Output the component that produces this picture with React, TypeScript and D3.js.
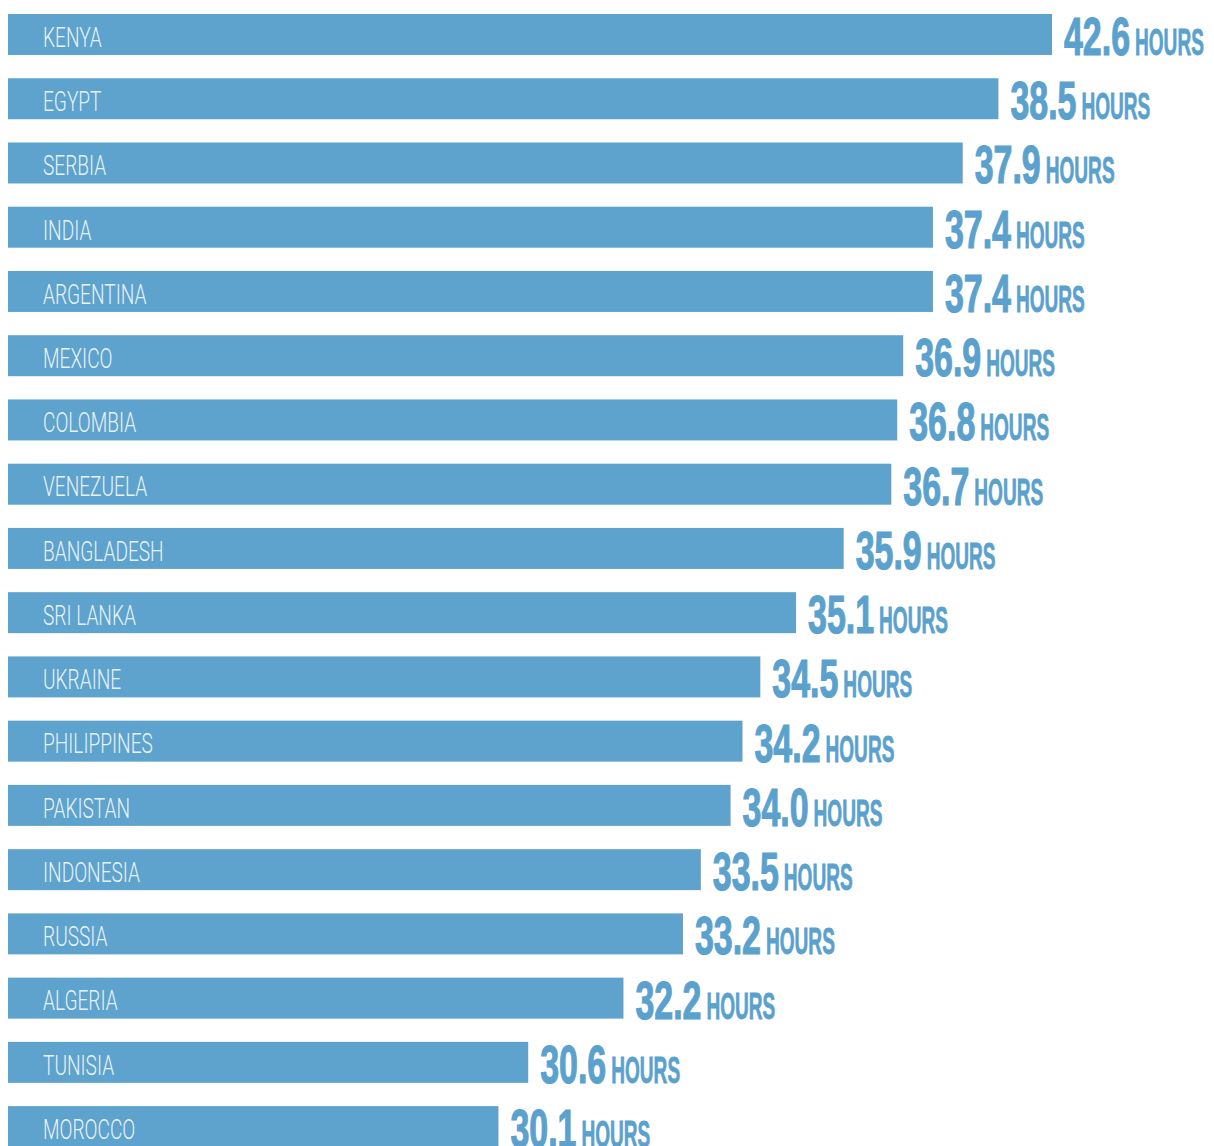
import React, { useEffect, useRef } from "react";
import * as d3 from "d3";

const countries = [
  "KENYA", "EGYPT", "SERBIA", "INDIA", "ARGENTINA", "MEXICO", "COLOMBIA", "VENEZUELA",
  "BANGLADESH", "SRI LANKA", "UKRAINE", "PHILIPPINES", "PAKISTAN", "INDONESIA", "RUSSIA",
  "ALGERIA", "TUNISIA", "MOROCCO",
];
const hours = [
  42.6, 38.5, 37.9, 37.4, 37.4, 36.9, 36.8, 36.7, 35.9, 35.1, 34.5, 34.2, 34.0, 33.5, 33.2,
  32.2, 30.6, 30.1,
];
const unitLabel = "HOURS";

const W = 1214;
const H = 1146;
const BAR = "#5da3cd";
const TXT = "#5ba1cd";
const LABEL = "#eaf2f8";

export default function App() {
  const ref = useRef<SVGSVGElement>(null);

  useEffect(() => {
    const svg = d3.select(ref.current);
    svg.selectAll("*").remove();

    const data = countries.map((c, i) => ({ c, v: hours[i] }));

    const x = d3.scaleLinear().domain([21.86, 39.4]).range([8, 1052]).clamp(true);
    const y = d3
      .scaleBand<string>()
      .domain(countries)
      .range([14, 1147.1])
      .paddingInner(0.362)
      .paddingOuter(0);
    const bw = y.bandwidth();

    const rows = svg
      .selectAll("g.row")
      .data(data)
      .join("g")
      .attr("class", "row")
      .attr("transform", (d) => `translate(0,${y(d.c)})`);

    rows
      .append("rect")
      .attr("x", x.range()[0])
      .attr("y", 0)
      .attr("width", (d) => x(d.v) - x.range()[0])
      .attr("height", bw)
      .attr("fill", BAR);

    rows
      .append("text")
      .attr("transform", `translate(43,${bw * 0.8}) scale(0.67,1)`)
      .attr("font-family", "Roboto, 'Liberation Sans Narrow', sans-serif")
      .attr("font-weight", 300)
      .attr("font-size", 28.5)
      .attr("fill", LABEL)
      .text((d) => d.c);

    rows.each(function (d) {
      const g = d3.select(this);
      const x0 = x(d.v) + 12;
      const numScale = 0.64;
      const num = g
        .append("text")
        .attr("transform", `translate(${x0},${bw}) scale(${numScale},1)`)
        .attr("font-family", "'Liberation Sans Narrow', 'Liberation Sans', sans-serif")
        .attr("font-weight", 700)
        .attr("font-size", 53)
        .attr("fill", TXT)
        .attr("stroke", TXT)
        .attr("stroke-width", 1.2)
        .text(d3.format(".1f")(d.v));
      const nw = (num.node() as SVGTextElement).getComputedTextLength() * numScale;
      g.append("text")
        .attr("transform", `translate(${x0 + nw + 5},${bw}) scale(0.53,1)`)
        .attr("font-family", "'Liberation Sans Narrow', 'Liberation Sans', sans-serif")
        .attr("font-weight", 700)
        .attr("font-size", 36)
        .attr("fill", TXT)
        .attr("stroke", TXT)
        .attr("stroke-width", 0.8)
        .text(unitLabel);
    });
  }, []);

  return (
    <svg
      ref={ref}
      width={W}
      height={H}
      style={{ position: "absolute", left: 0, top: 0, background: "#fff", display: "block" }}
    />
  );
}
